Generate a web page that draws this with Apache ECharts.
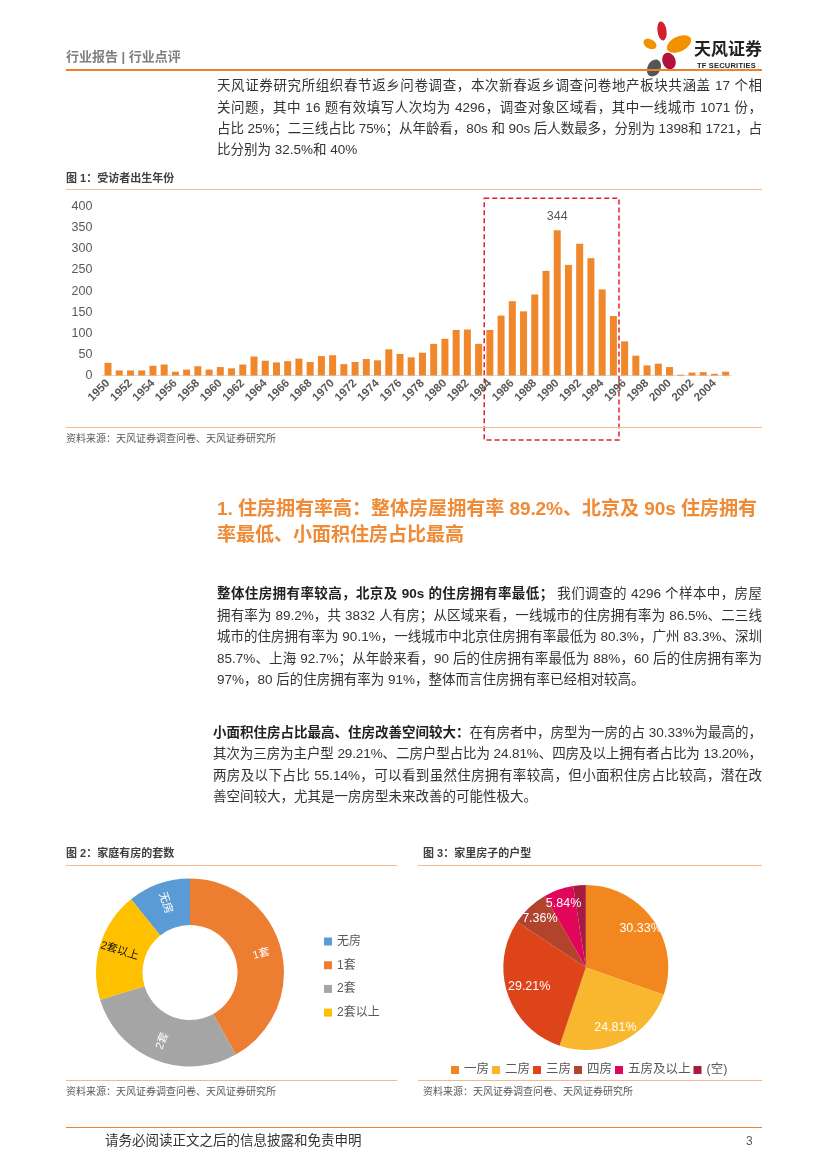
<!DOCTYPE html>
<html>
<head>
<meta charset="utf-8">
<script src="https://cdn.jsdelivr.net/npm/echarts@6/dist/echarts.min.js"></script>
<style>
html,body{margin:0;padding:0;background:#fff;}
#page{position:relative;width:827px;height:1169px;overflow:hidden;font-family:"Liberation Sans","Noto Sans CJK SC",sans-serif;color:#333;}
#chart{position:absolute;left:0;top:0;width:827px;height:1169px;}
.t{position:absolute;white-space:nowrap;line-height:18px;}
.ln{position:absolute;left:217px;width:545px;white-space:nowrap;text-align:justify;text-align-last:justify;font-size:13.5px;line-height:18px;color:#333;}
.last{text-align-last:left;}
.hd{position:absolute;left:217px;width:540px;white-space:nowrap;text-align:justify;text-align-last:justify;font-size:19px;line-height:24px;font-weight:bold;color:#ef8a36;}
.rule{position:absolute;height:0;}
.ft{font-size:11px;font-weight:bold;color:#404040;}
.src{font-size:10px;color:#595959;}
b{color:#222;}
</style>
</head>
<body>
<div id="page">
  <div id="chart"></div>

  <!-- header -->
  <div class="t" style="left:66px;top:48px;font-size:13px;font-weight:bold;color:#7f7f7f;">行业报告 | 行业点评</div>
  <div class="t" style="left:694px;top:37px;font-size:17px;font-weight:bold;color:#222;font-family:'Noto Sans CJK SC';line-height:22px;">天风证券</div>
  <div class="t" style="left:697px;top:61px;font-size:7.5px;font-weight:bold;color:#222;line-height:9px;letter-spacing:0.2px;">TF SECURITIES</div>
  <div class="rule" style="left:66px;top:69px;width:696px;border-top:2px solid #ee7f2d;"></div>

  <!-- intro -->
  <div class="ln" style="top:77px;">天风证券研究所组织春节返乡问卷调查，本次新春返乡调查问卷地产板块共涵盖 17 个相</div>
  <div class="ln" style="top:98.5px;">关问题，其中 16 题有效填写人次均为 4296，调查对象区域看，其中一线城市 1071 份，</div>
  <div class="ln" style="top:120px;">占比 25%；二三线占比 75%；从年龄看，80s 和 90s 后人数最多，分别为 1398和 1721，占</div>
  <div class="ln last" style="top:141px;">比分别为 32.5%和 40%</div>

  <!-- figure 1 frame -->
  <div class="t ft" style="left:66px;top:169px;">图 1：受访者出生年份</div>
  <div class="rule" style="left:66px;top:189px;width:696px;border-top:1.5px solid #f5b88a;"></div>
  <div class="rule" style="left:66px;top:427px;width:696px;border-top:1.5px solid #f5b88a;"></div>
  <div class="t src" style="left:66px;top:430px;">资料来源：天风证券调查问卷、天风证券研究所</div>

  <!-- heading -->
  <div class="hd" style="top:497px;">1. 住房拥有率高：整体房屋拥有率 89.2%、北京及 90s 住房拥有</div>
  <div class="hd" style="top:523px;text-align-last:left;">率最低、小面积住房占比最高</div>

  <!-- paragraph 2 -->
  <div class="ln" style="top:585px;"><b>整体住房拥有率较高，北京及 90s 的住房拥有率最低；</b> 我们调查的 4296 个样本中，房屋</div>
  <div class="ln" style="top:606.5px;">拥有率为 89.2%，共 3832 人有房；从区域来看，一线城市的住房拥有率为 86.5%、二三线</div>
  <div class="ln" style="top:628px;">城市的住房拥有率为 90.1%，一线城市中北京住房拥有率最低为 80.3%，广州 83.3%、深圳</div>
  <div class="ln" style="top:649.5px;">85.7%、上海 92.7%；从年龄来看，90 后的住房拥有率最低为 88%，60 后的住房拥有率为</div>
  <div class="ln last" style="top:671px;">97%，80 后的住房拥有率为 91%，整体而言住房拥有率已经相对较高。</div>

  <!-- paragraph 3 -->
  <div class="ln" style="left:213px;width:549px;top:724px;"><b>小面积住房占比最高、住房改善空间较大：</b>在有房者中，房型为一房的占 30.33%为最高的，</div>
  <div class="ln" style="left:213px;width:549px;top:745px;">其次为三房为主户型 29.21%、二房户型占比为 24.81%、四房及以上拥有者占比为 13.20%，</div>
  <div class="ln" style="left:213px;width:549px;top:766.5px;">两房及以下占比 55.14%，可以看到虽然住房拥有率较高，但小面积住房占比较高，潜在改</div>
  <div class="ln last" style="left:213px;width:549px;top:788px;">善空间较大，尤其是一房房型未来改善的可能性极大。</div>

  <!-- figures 2 & 3 frames -->
  <div class="t ft" style="left:66px;top:844px;">图 2：家庭有房的套数</div>
  <div class="t ft" style="left:423px;top:844px;">图 3：家里房子的户型</div>
  <div class="rule" style="left:66px;top:865px;width:331px;border-top:1.5px solid #f5b88a;"></div>
  <div class="rule" style="left:418px;top:865px;width:344px;border-top:1.5px solid #f5b88a;"></div>
  <div class="rule" style="left:66px;top:1080px;width:331px;border-top:1.5px solid #f5b88a;"></div>
  <div class="rule" style="left:418px;top:1080px;width:344px;border-top:1.5px solid #f5b88a;"></div>
  <div class="t src" style="left:66px;top:1083px;">资料来源：天风证券调查问卷、天风证券研究所</div>
  <div class="t src" style="left:423px;top:1083px;">资料来源：天风证券调查问卷、天风证券研究所</div>

  <!-- footer -->
  <div class="rule" style="left:66px;top:1127px;width:696px;border-top:1.5px solid #ee7f2d;"></div>
  <div class="t" style="left:105px;top:1132px;font-size:13.5px;color:#333;">请务必阅读正文之后的信息披露和免责申明</div>
  <div class="t" style="left:746px;top:1132px;font-size:12px;color:#595959;">3</div>
</div>

<script>
// squeeze any justified line that is wider than its box
document.querySelectorAll('.ln,.hd').forEach(el=>{
  let ls = 0;
  while (el.scrollWidth > el.clientWidth + 0.5 && ls > -1.5) {
    ls -= 0.1;
    el.style.letterSpacing = ls.toFixed(2) + 'px';
  }
});

// ---------- Figure 1: birth year of respondents ----------
const YEARS = ['1950','1951','1952','1953','1954','1955','1956','1957','1958','1959',
  '1960','1961','1962','1963','1964','1965','1966','1967','1968','1969',
  '1970','1971','1972','1973','1974','1975','1976','1977','1978','1979',
  '1980','1981','1982','1983','1984','1985','1986','1987','1988','1989',
  '1990','1991','1992','1993','1994','1995','1996','1997','1998','1999',
  '2000','2001','2002','2003','2004','2005'];
const RESPONDENTS = [30,12,12,12,23,26,9,14,22,14,
  20,17,26,45,35,31,34,40,32,46,
  48,27,32,39,36,62,51,43,54,75,
  87,108,109,75,108,142,176,152,192,248,
  344,262,312,278,204,141,81,47,24,28,
  20,2,7,8,4,9];
const Y_MIN = 0, Y_MAX = 400, Y_STEP = 50;
const HIGHLIGHT_FROM = '1984', HIGHLIGHT_TO = '1995';

// ---------- Figure 2: number of homes owned ----------
const OWN_NAMES = ['无房','1套','2套','2套以上'];
const OWN_VALUES = [10.8, 41.9, 28.4, 18.9];
const OWN_COLORS = ['#5b9bd5','#ed7d31','#a5a5a5','#ffc000'];

// ---------- Figure 3: home layout ----------
const TYPE_NAMES = ['一房','二房','三房','四房','五房及以上','(空)'];
const TYPE_VALUES = [30.33, 24.81, 29.21, 7.36, 5.84, 2.44];
const TYPE_COLORS = ['#f2861f','#f8b72e','#de4419','#b2432c','#e2065a','#a51c3e'];

const chart = echarts.init(document.getElementById('chart'), null, {renderer:'canvas'});

const peak = Math.max.apply(null, RESPONDENTS);
const barData = RESPONDENTS.map(v => v === peak
  ? {value:v, label:{show:true, position:'top', distance:7, color:'#595959', fontSize:12.5, fontFamily:'Liberation Sans'}}
  : v);

const ownTotal = OWN_VALUES.reduce((a,b)=>a+b,0);
const ownData = OWN_NAMES.map((n,i)=>({name:n, value:OWN_VALUES[i],
  itemStyle:{color:OWN_COLORS[i]},
  label:{color: i===3 ? '#111' : '#fff'}}));

const typeData = TYPE_NAMES.map((n,i)=>({name:n, value:TYPE_VALUES[i], itemStyle:{color:TYPE_COLORS[i]}}));
const typeLabelData = TYPE_NAMES.map((n,i)=>{
  const d = {name:n, value:TYPE_VALUES[i], itemStyle:{color:'rgba(0,0,0,0)'}};
  if (i === 2) d.label = {offset:[7,-3]};
  if (i === 5) d.label = {offset:[12,-4]};
  return d;
});

const petals = [
  {x:662, y:31, rx:4.5, ry:9.5, r:0.15, c:'#d2232a'},
  {x:650, y:44, rx:7, ry:4.6, r:-0.5, c:'#f39200'},
  {x:679, y:44, rx:13, ry:7.5, r:0.45, c:'#f39200'},
  {x:669, y:61, rx:6.5, ry:8.5, r:0.35, c:'#b0123b'},
  {x:654, y:68, rx:6.5, ry:9, r:-0.45, c:'#555555'}
];
const petalGraphics = petals.map(p=>({type:'ellipse', x:p.x, y:p.y, rotation:p.r, silent:true,
    shape:{cx:0, cy:0, rx:p.rx, ry:p.ry}, style:{fill:p.c}}));

chart.setOption({
  animation:false,
  textStyle:{fontFamily:'"Liberation Sans","Noto Sans CJK SC",sans-serif'},
  grid:[{left:102.4, width:628.9, top:206.7, height:168.8, containLabel:false}],
  xAxis:[{
    type:'category', data:YEARS, gridIndex:0,
    axisTick:{show:false},
    axisLine:{lineStyle:{color:'#d9d9d9', width:1}},
    axisLabel:{interval:1, rotate:45, margin:6, fontSize:11.5, fontWeight:'bold', color:'#595959'}
  }],
  yAxis:[{
    type:'value', gridIndex:0, min:Y_MIN, max:Y_MAX, interval:Y_STEP,
    splitLine:{show:false}, axisLine:{show:false}, axisTick:{show:false},
    axisLabel:{margin:10, fontSize:12.5, color:'#595959'}
  }],
  legend:[
    {orient:'vertical', left:319, top:930, itemWidth:8, itemHeight:8, itemGap:10.7, icon:'rect',
     data:OWN_NAMES, textStyle:{fontSize:12, lineHeight:13, color:'#595959'}, selectedMode:false},
    {orient:'horizontal', left:446, top:1058, itemWidth:8, itemHeight:8, itemGap:3, icon:'rect',
     data:TYPE_NAMES, textStyle:{fontSize:12.5, lineHeight:14, color:'#595959'}, selectedMode:false}
  ],
  series:[
    {type:'bar', xAxisIndex:0, yAxisIndex:0, data:barData, barWidth:7,
     itemStyle:{color:'#f0872b'}, emphasis:{disabled:true}},
    {type:'pie', center:[190,972.5], radius:[47.5,94], clockwise:true,
     startAngle: 90 + OWN_VALUES[0]/ownTotal*360,
     data:ownData, emphasis:{disabled:true}, labelLine:{show:false},
     label:{show:true, position:'inside', rotate:'radial', fontSize:11, formatter:'{b}'}},
    {type:'pie', center:[585.8,967.5], radius:[0,82.5], clockwise:true, startAngle:90,
     data:typeData, emphasis:{disabled:true}, label:{show:false}, labelLine:{show:false}},
    {type:'pie', center:[585.8,967.5], radius:[46,82.5], clockwise:true, startAngle:90, silent:true,
     data:typeLabelData, emphasis:{disabled:true}, labelLine:{show:false},
     label:{show:true, position:'inside', color:'#fff', fontSize:12.5, fontFamily:'Liberation Sans',
            formatter:p=>p.value.toFixed(2)+'%'}}
  ],
  graphic: petalGraphics
});

// dashed highlight box around 1984–1995, placed through the category axis
const iFrom = YEARS.indexOf(HIGHLIGHT_FROM), iTo = YEARS.indexOf(HIGHLIGHT_TO);
const px = i => chart.convertToPixel({xAxisIndex:0}, i);
const boxL = (px(iFrom) + px(iFrom-1)) / 2;
const boxR = (px(iTo) + px(iTo+1)) / 2;
const boxT = chart.convertToPixel({yAxisIndex:0}, 420);
chart.setOption({
  graphic: petalGraphics.concat([
    {type:'rect', silent:true, shape:{x:boxL, y:boxT, width:boxR-boxL, height:440-boxT},
     style:{fill:'none', stroke:'#e3202a', lineWidth:1.5, lineDash:[5,3]}}
  ])
});
</script>
</body>
</html>
